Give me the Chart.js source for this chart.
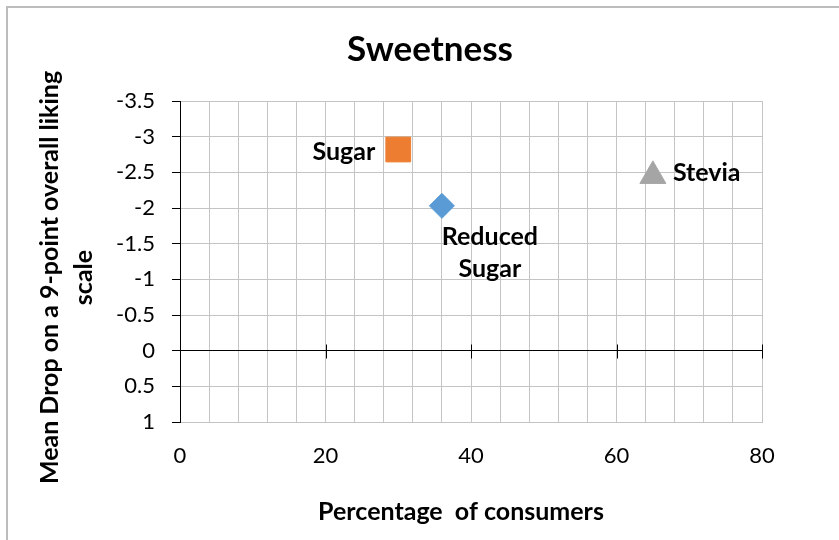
<!DOCTYPE html>
<html>
<head>
<meta charset="utf-8">
<script src="https://cdn.jsdelivr.net/npm/chart.js@4/dist/chart.umd.min.js"></script>
<style>
  html, body { margin: 0; padding: 0; background: #fff; }
  #wrap { position: relative; width: 839px; height: 540px; overflow: hidden; }
  #frame { position: absolute; left: 6px; top: 6px; width: 900px; height: 600px;
           border-top: 2px solid #bcbcbc; border-left: 2px solid #bcbcbc; pointer-events: none; }
  canvas { position: absolute; left: 0; top: 0; }
</style>
</head>
<body>
<div id="wrap">
  <canvas id="chart" width="839" height="540"></canvas>
  <div id="frame"></div>
</div>
<script>
// Sweetness: share of consumers vs. mean drop in liking
const seriesNames = ['Reduced Sugar', 'Sugar', 'Stevia'];
const consumerPct = [36, 30, 65];
const meanDrop = [-2.03, -2.82, -2.45];
const pointLabels = [['Reduced', 'Sugar'], ['Sugar'], ['Stevia']];
const yTicks = [-3.5, -3, -2.5, -2, -1.5, -1, -0.5, 0, 0.5, 1];
const xLabelTicks = [0, 20, 40, 60, 80];
const yTitleLines = ['Mean Drop on a 9-point overall liking', 'scale'];
const xTitle = 'Percentage  of consumers';

const FONT = 'Lato, "Open Sans", sans-serif';
const GRID = '#c4c4c4';

const markers = [
  { style: 'rectRot', radius: 12.5, color: '#5B9BD5' },
  { style: 'rect', radius: 17.5, color: '#ED7D31' },
  { style: 'triangle', radius: 15, color: '#A5A5A5' }
];

// label placement relative to each marker
const labelPlacement = [
  { dx: 48, dy: 31, align: 'center', lineGap: 32 },
  { dx: -23, dy: 2, align: 'right', lineGap: 32 },
  { dx: 20, dy: -3, align: 'left', lineGap: 32 }
];

const datasets = seriesNames.map((name, i) => ({
  label: name,
  data: [{ x: consumerPct[i], y: meanDrop[i] }],
  pointStyle: markers[i].style,
  pointRadius: markers[i].radius,
  pointHoverRadius: markers[i].radius,
  backgroundColor: markers[i].color,
  borderColor: markers[i].color,
  borderWidth: 1
}));

const pointLabelPlugin = {
  id: 'pointLabels',
  afterDatasetsDraw(chart) {
    const ctx = chart.ctx;
    ctx.save();
    ctx.font = 'bold 25px ' + FONT;
    ctx.fillStyle = '#000';
    ctx.textBaseline = 'middle';
    chart.data.datasets.forEach((ds, i) => {
      const el = chart.getDatasetMeta(i).data[0];
      const p = labelPlacement[i];
      ctx.textAlign = p.align;
      pointLabels[i].forEach((line, k) => {
        ctx.fillText(line, el.x + p.dx, el.y + p.dy + k * p.lineGap);
      });
    });
    ctx.restore();
  }
};

// tick marks crossing the zero line on the horizontal axis
const zeroAxisPlugin = {
  id: 'zeroAxisTicks',
  afterDatasetsDraw(chart) {
    const { ctx, scales } = chart;
    const y0 = Math.round(scales.y.getPixelForValue(0)) + 0.5;
    ctx.save();
    ctx.strokeStyle = '#000';
    ctx.lineWidth = 1;
    ctx.beginPath();
    xLabelTicks.forEach(v => {
      const x = Math.round(scales.x.getPixelForValue(v)) + 0.5;
      ctx.moveTo(x, y0 - 7);
      ctx.lineTo(x, y0 + 7);
    });
    ctx.stroke();
    ctx.restore();
  }
};

// axis titles
const axisTitlePlugin = {
  id: 'axisTitles',
  afterDraw(chart) {
    const { ctx, chartArea } = chart;
    ctx.save();
    ctx.font = 'bold 25px ' + FONT;
    ctx.fillStyle = '#000';
    ctx.textAlign = 'center';
    ctx.textBaseline = 'middle';
    const cy = (chartArea.top + chartArea.bottom) / 2 + 16;
    yTitleLines.forEach((line, k) => {
      ctx.save();
      ctx.translate(chartArea.left - 130 + k * 34, cy);
      ctx.rotate(-Math.PI / 2);
      ctx.fillText(line, 0, 0);
      ctx.restore();
    });
    ctx.fillText(xTitle, (chartArea.left + chartArea.right) / 2 - 10, chartArea.bottom + 90);
    ctx.restore();
  }
};

new Chart(document.getElementById('chart'), {
  type: 'scatter',
  data: { datasets },
  plugins: [pointLabelPlugin, zeroAxisPlugin, axisTitlePlugin],
  options: {
    responsive: false,
    devicePixelRatio: 1,
    animation: false,
    layout: { padding: { left: 21, right: 0, top: 0, bottom: 0 } },
    plugins: {
      legend: { display: false },
      tooltip: { enabled: false },
      title: {
        display: true,
        text: 'Sweetness',
        color: '#000',
        font: { family: FONT, size: 35, weight: 'bold', lineHeight: 1.2 },
        padding: { top: 29, bottom: 30 }
      }
    },
    scales: {
      x: {
        type: 'linear',
        min: 0,
        max: 80,
        afterFit(s) { s.height = 118; },
        ticks: {
          stepSize: 4,
          autoSkip: false,
          maxRotation: 0,
          padding: 21,
          color: '#000',
          font: { family: FONT, size: 22 },
          callback: v => (xLabelTicks.includes(v) ? String(v) : '')
        },
        grid: { color: GRID, lineWidth: 1, drawTicks: false },
        border: { display: true, color: GRID, width: 1 }
      },
      y: {
        type: 'linear',
        reverse: true,
        min: -3.5,
        max: 1,
        afterFit(s) { s.width = 159; },
        afterBuildTicks(s) { s.ticks = yTicks.map(v => ({ value: v })); },
        ticks: {
          padding: 17,
          color: '#000',
          font: { family: FONT, size: 22 },
          callback: v => String(v)
        },
        grid: {
          color: c => (c.tick && c.tick.value === 0 ? '#000' : GRID),
          lineWidth: 1,
          tickColor: '#000',
          tickLength: 8
        },
        border: { display: true, color: '#000', width: 1 }
      },
      spacer: {
        type: 'linear',
        position: 'right',
        display: true,
        afterFit(s) { s.width = 77; },
        ticks: { display: false },
        grid: { display: false, drawTicks: false },
        border: { display: false }
      }
    }
  }
});
</script>
</body>
</html>
